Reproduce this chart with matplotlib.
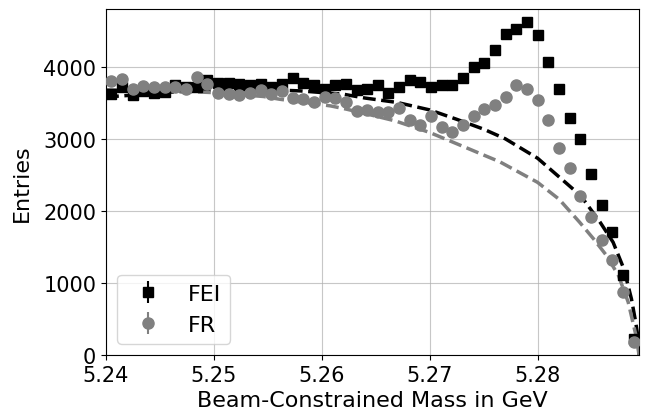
import numpy as np
import matplotlib
matplotlib.use("Agg")
import matplotlib.pyplot as plt

# histogram range / binning (50 bins)
m_lo, m_hi = 5.24, 5.2894
n_bins = 50

# entries per bin
fei_counts = [3618, 3724, 3604, 3664, 3632, 3650, 3742, 3724, 3724, 3816,
              3779, 3770, 3756, 3742, 3756, 3711, 3756, 3849, 3779, 3742,
              3687, 3742, 3756, 3677, 3687, 3742, 3641, 3711, 3816, 3793,
              3724, 3742, 3742, 3839, 4001, 4057, 4231, 4449, 4527, 4619,
              4440, 4066, 3687, 3285, 2990, 2510, 2085, 1711, 1115, 224]
fr_counts = [3802, 3835, 3696, 3733, 3711, 3711, 3724, 3687, 3863, 3756,
             3641, 3618, 3604, 3641, 3677, 3622, 3664, 3572, 3548, 3511,
             3586, 3572, 3511, 3386, 3400, 3373, 3373, 3420, 3262, 3188,
             3309, 3157, 3096, 3188, 3317, 3410, 3475, 3586, 3742, 3696,
             3539, 3262, 2870, 2589, 2209, 1910, 1600, 1323, 880, 187]

# background (ARGUS-like) curves, sampled off the plot
fei_bkg_m = [5.2400, 5.2420, 5.2450, 5.2500, 5.2550, 5.2580, 5.2620, 5.2640,
             5.2670, 5.2700, 5.2725, 5.2750, 5.2770, 5.2800, 5.2820, 5.2840,
             5.2858, 5.2870, 5.2880, 5.2887, 5.2891, 5.2893, 5.2894]
fei_bkg_y = [3580, 3600, 3640, 3677, 3680, 3664, 3618, 3565,
             3503, 3400, 3270, 3133, 3000, 2730, 2470, 2209,
             1841, 1564, 1194, 778, 450, 250, 0]
fr_bkg_m = [5.2400, 5.2450, 5.2500, 5.2546, 5.2561, 5.2608, 5.2623, 5.2640,
            5.2668, 5.2700, 5.2737, 5.2765, 5.2800, 5.2820, 5.2839, 5.2852,
            5.2864, 5.2875, 5.2884, 5.2889, 5.2892, 5.2894]
fr_bkg_y = [3680, 3670, 3640, 3586, 3548, 3456, 3410, 3350,
            3248, 3087, 2856, 2680, 2395, 2160, 1841, 1609,
            1378, 1101, 733, 409, 220, 0]

edges = np.linspace(m_lo, m_hi, n_bins + 1)
centers = 0.5 * (edges[1:] + edges[:-1])
fei_counts = np.array(fei_counts)
fr_counts = np.array(fr_counts)

plt.rcParams['font.size'] = 15

fig = plt.figure(figsize=(6.46, 4.14), dpi=100)
ax = fig.add_axes([106 / 646, 1 - 356 / 414, 533 / 646, 346 / 414])

ax.errorbar(centers, fei_counts, yerr=np.sqrt(fei_counts), fmt='s', color='black',
            ms=7.5, label='FEI', zorder=3)
ax.errorbar(centers, fr_counts, yerr=np.sqrt(fr_counts), fmt='o', color='gray',
            ms=8, label='FR', zorder=3)
ax.plot(fei_bkg_m, fei_bkg_y, '--', color='black', lw=2.5, zorder=2)
ax.plot(fr_bkg_m, fr_bkg_y, '--', color='gray', lw=2.5, zorder=2)

ax.set_xlim(m_lo, m_hi)
ax.set_ylim(0, 4800)
ax.set_xticks([5.24, 5.25, 5.26, 5.27, 5.28])
ax.set_xlabel('Beam-Constrained Mass in GeV', fontsize=16)
ax.set_ylabel('Entries', fontsize=16, labelpad=8)
ax.grid(True, color='#b0b0b0', alpha=0.7)
ax.set_axisbelow(True)
ax.legend(loc='lower left', fontsize=16)

fig.savefig('out.png', dpi=100)
